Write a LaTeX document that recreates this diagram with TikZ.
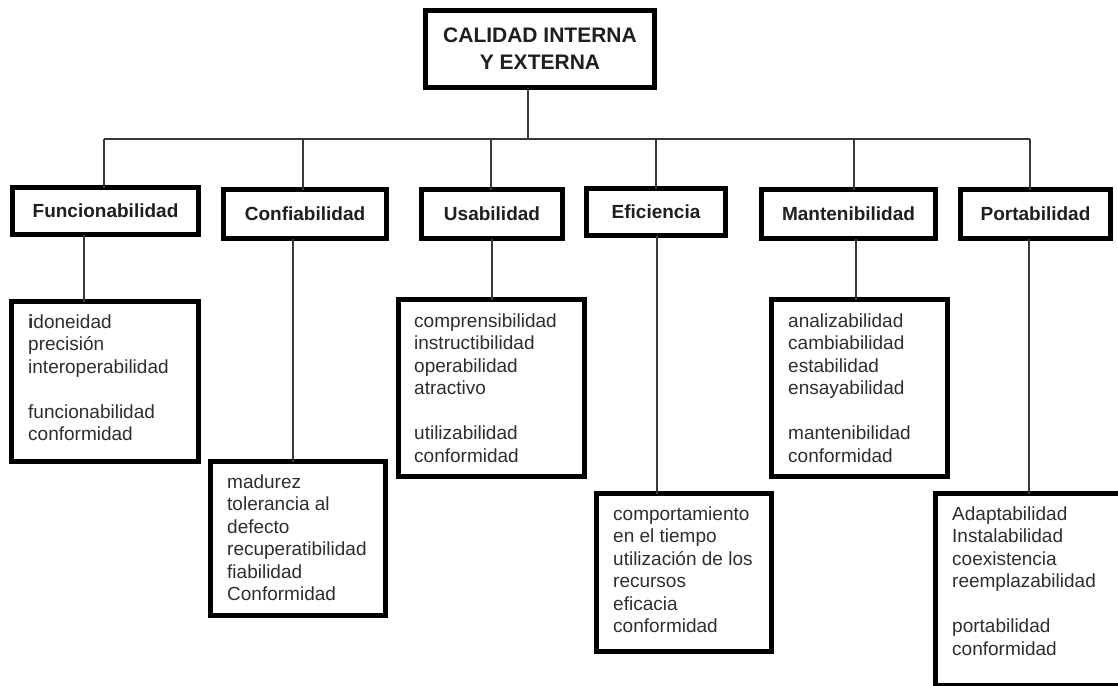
\documentclass[tikz,border=0pt]{standalone}
\usepackage{fontspec}
\setmainfont{Liberation Sans}
\begin{document}
\begin{tikzpicture}[x=1pt,y=-1pt,
  frame/.style={draw=black, line width=5pt, fill=white, inner sep=0pt, outer sep=0pt},
  rootbox/.style={frame, align=center, font=\bfseries\fontsize{21}{27}\selectfont, text=black!88},
  head/.style={frame, font=\bfseries\fontsize{19}{22}\selectfont, text=black!88},
  items/.style={anchor=base west, align=left, inner sep=0pt,
    font=\fontsize{19}{22.5}\selectfont, text=black!82},
  wire/.style={draw=black!78, line width=1.3pt}]
\useasboundingbox (0,0) rectangle (1118,685);
\begin{scope}
\clip (0,0) rectangle (1118,685);

% root
\node[rootbox, minimum width=229pt, minimum height=77pt] (top) at (540,49)
  {CALIDAD INTERNA\\Y EXTERNA};

% characteristics
\node[head, minimum width=186pt, minimum height=47pt] (f2) at (105.5,211) {Funcionabilidad};
\node[head, minimum width=163pt, minimum height=49pt] (c2) at (305,214) {Confiabilidad};
\node[head, minimum width=141pt, minimum height=49pt] (u2) at (492,214) {Usabilidad};
\node[head, minimum width=139pt, minimum height=47pt] (e2) at (656,212) {Eficiencia};
\node[head, minimum width=174pt, minimum height=49pt] (m2) at (848.5,214) {Mantenibilidad};
\node[head, minimum width=150pt, minimum height=49pt] (p2) at (1035.5,214) {Portabilidad};

% sub-characteristic frames
\node[frame, minimum width=187pt, minimum height=160pt] (f3) at (105,381.5) {};
\node[frame, minimum width=175pt, minimum height=154pt] (c3) at (298,538.5) {};
\node[frame, minimum width=186pt, minimum height=177pt] (u3) at (491.5,388) {};
\node[frame, minimum width=175pt, minimum height=158pt] (e3) at (684,572.5) {};
\node[frame, minimum width=176pt, minimum height=177pt] (m3) at (859.5,388) {};
\node[frame, minimum width=202pt, minimum height=192pt] (p3) at (1036.5,589.5) {};

% sub-characteristic lists (anchored on the baseline of the last line)
\node[items] (f3t) at (28,440.5)
  {\textbf{i}doneidad\\precisión\\interoperabilidad\\[22.5pt]funcionabilidad\\conformidad};
\node[items] (c3t) at (227,600.5)
  {madurez\\tolerancia al\\defecto\\recuperatibilidad\\fiabilidad\\Conformidad};
\node[items] (u3t) at (414,462)
  {comprensibilidad\\instructibilidad\\operabilidad\\atractivo\\[22.5pt]utilizabilidad\\conformidad};
\node[items] (e3t) at (613,632.5)
  {comportamiento\\en el tiempo\\utilización de los\\recursos\\eficacia\\conformidad};
\node[items] (m3t) at (788,462)
  {analizabilidad\\cambiabilidad\\estabilidad\\ensayabilidad\\[22.5pt]mantenibilidad\\conformidad};
\node[items] (p3t) at (952,655)
  {Adaptabilidad\\Instalabilidad\\coexistencia\\reemplazabilidad\\[22.5pt]portabilidad\\conformidad};

% tree connectors
\coordinate (hub) at (528,139);
\draw[wire] (top.south -| hub) -- (hub);
\draw[wire] ([xshift=-1.5pt]f2.north |- hub) -- ([xshift=-5.5pt]p2.north |- hub);
\draw[wire] ([xshift=-1.5pt]f2.north |- hub) -- ([xshift=-1.5pt]f2.north);
\draw[wire] ([xshift=-2pt]c2.north |- hub) -- ([xshift=-2pt]c2.north);
\draw[wire] ([xshift=-1pt]u2.north |- hub) -- ([xshift=-1pt]u2.north);
\draw[wire] (e2.north |- hub) -- (e2.north);
\draw[wire] ([xshift=5.5pt]m2.north |- hub) -- ([xshift=5.5pt]m2.north);
\draw[wire] ([xshift=-5.5pt]p2.north |- hub) -- ([xshift=-5.5pt]p2.north);

\draw[wire] ([xshift=-21.5pt]f2.south) -- ([xshift=-21.5pt]f2.south |- f3.north);
\draw[wire] ([xshift=-12pt]c2.south) -- ([xshift=-12pt]c2.south |- c3.north);
\draw[wire] (u2.south) -- (u2.south |- u3.north);
\draw[wire] ([xshift=1pt]e2.south) -- ([xshift=1pt]e2.south |- e3.north);
\draw[wire] ([xshift=7.5pt]m2.south) -- ([xshift=7.5pt]m2.south |- m3.north);
\draw[wire] ([xshift=-6.5pt]p2.south) -- ([xshift=-6.5pt]p2.south |- p3.north);
\end{scope}
\end{tikzpicture}
\end{document}
